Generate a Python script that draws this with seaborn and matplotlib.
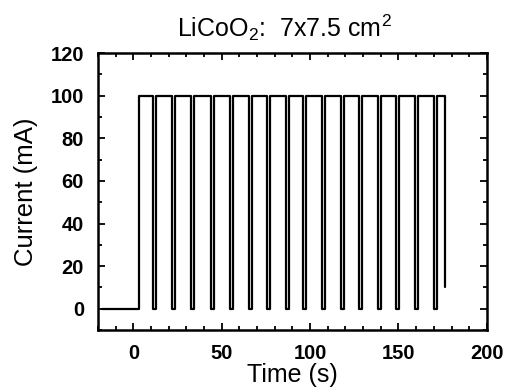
import numpy as np
import pandas as pd
import seaborn as sns
import matplotlib
matplotlib.use("Agg")
import matplotlib.pyplot as plt
from matplotlib.ticker import MultipleLocator

# Pulse-discharge record: open circuit, then 100 mA pulses with short rests
baseline_start = -18.0      # s, start of the trace
pulse_on = 3.0              # s, first switch to 100 mA
pulse_current = 100.0       # mA
rest_centers = [12.0, 22.9, 33.7, 44.7, 55.4, 66.1, 76.6, 87.0,
                97.1, 107.6, 118.1, 128.6, 139.0, 149.5, 160.4, 170.9]  # s
rest_width = 1.7            # s
end_time = 176.2            # s, final step
end_current = 10.0          # mA

# Build the step waveform
t = [baseline_start, pulse_on, pulse_on]
i = [0.0, 0.0, pulse_current]
for c in rest_centers:
    a, b = c - rest_width / 2, c + rest_width / 2
    t += [a, a, b, b]
    i += [pulse_current, 0.0, 0.0, pulse_current]
t += [end_time, end_time]
i += [pulse_current, end_current]

df = pd.DataFrame({"Time (s)": t, "Current (mA)": i})

sns.set_theme(style="white")
plt.rcParams["font.family"] = ["Liberation Sans", "DejaVu Sans"]
plt.rcParams["mathtext.fontset"] = "custom"
plt.rcParams["mathtext.rm"] = "Liberation Sans"
plt.rcParams["mathtext.it"] = "Liberation Sans:italic"
plt.rcParams["mathtext.bf"] = "Liberation Sans:bold"
plt.rcParams["text.color"] = "black"
plt.rcParams["axes.labelcolor"] = "black"
plt.rcParams["xtick.color"] = "black"
plt.rcParams["ytick.color"] = "black"

fig = plt.figure(figsize=(5.07, 3.92), dpi=100)
ax = fig.add_axes([0.1933, 0.158, 0.767, 0.7066])

sns.lineplot(data=df, x="Time (s)", y="Current (mA)", sort=False,
             estimator=None, color="black", linewidth=1.6, ax=ax)

ax.set_xlim(-20, 200)
ax.set_ylim(-10, 120)
ax.xaxis.set_major_locator(MultipleLocator(50))
ax.xaxis.set_minor_locator(MultipleLocator(10))
ax.yaxis.set_major_locator(MultipleLocator(20))
ax.yaxis.set_minor_locator(MultipleLocator(10))

ax.tick_params(which="both", direction="in", top=True, right=True,
               bottom=True, left=True, color="black", width=1.3)
ax.tick_params(which="major", length=5, labelsize=14.5)
ax.tick_params(axis="x", which="major", pad=10)
ax.tick_params(axis="y", which="major", pad=10)
ax.tick_params(which="minor", length=3)
for lab in ax.get_xticklabels() + ax.get_yticklabels():
    lab.set_fontweight("bold")

for s in ax.spines.values():
    s.set_color("black")
    s.set_linewidth(1.8)

ax.set_xlabel("Time (s)", fontsize=18, labelpad=0)
ax.set_ylabel("Current (mA)", fontsize=18.5, labelpad=9)
ax.set_title("LiCoO$_2$:  7x7.5 cm$^2$", fontsize=18, x=0.48, pad=12)

fig.savefig("out.png", dpi=100, facecolor="white")
